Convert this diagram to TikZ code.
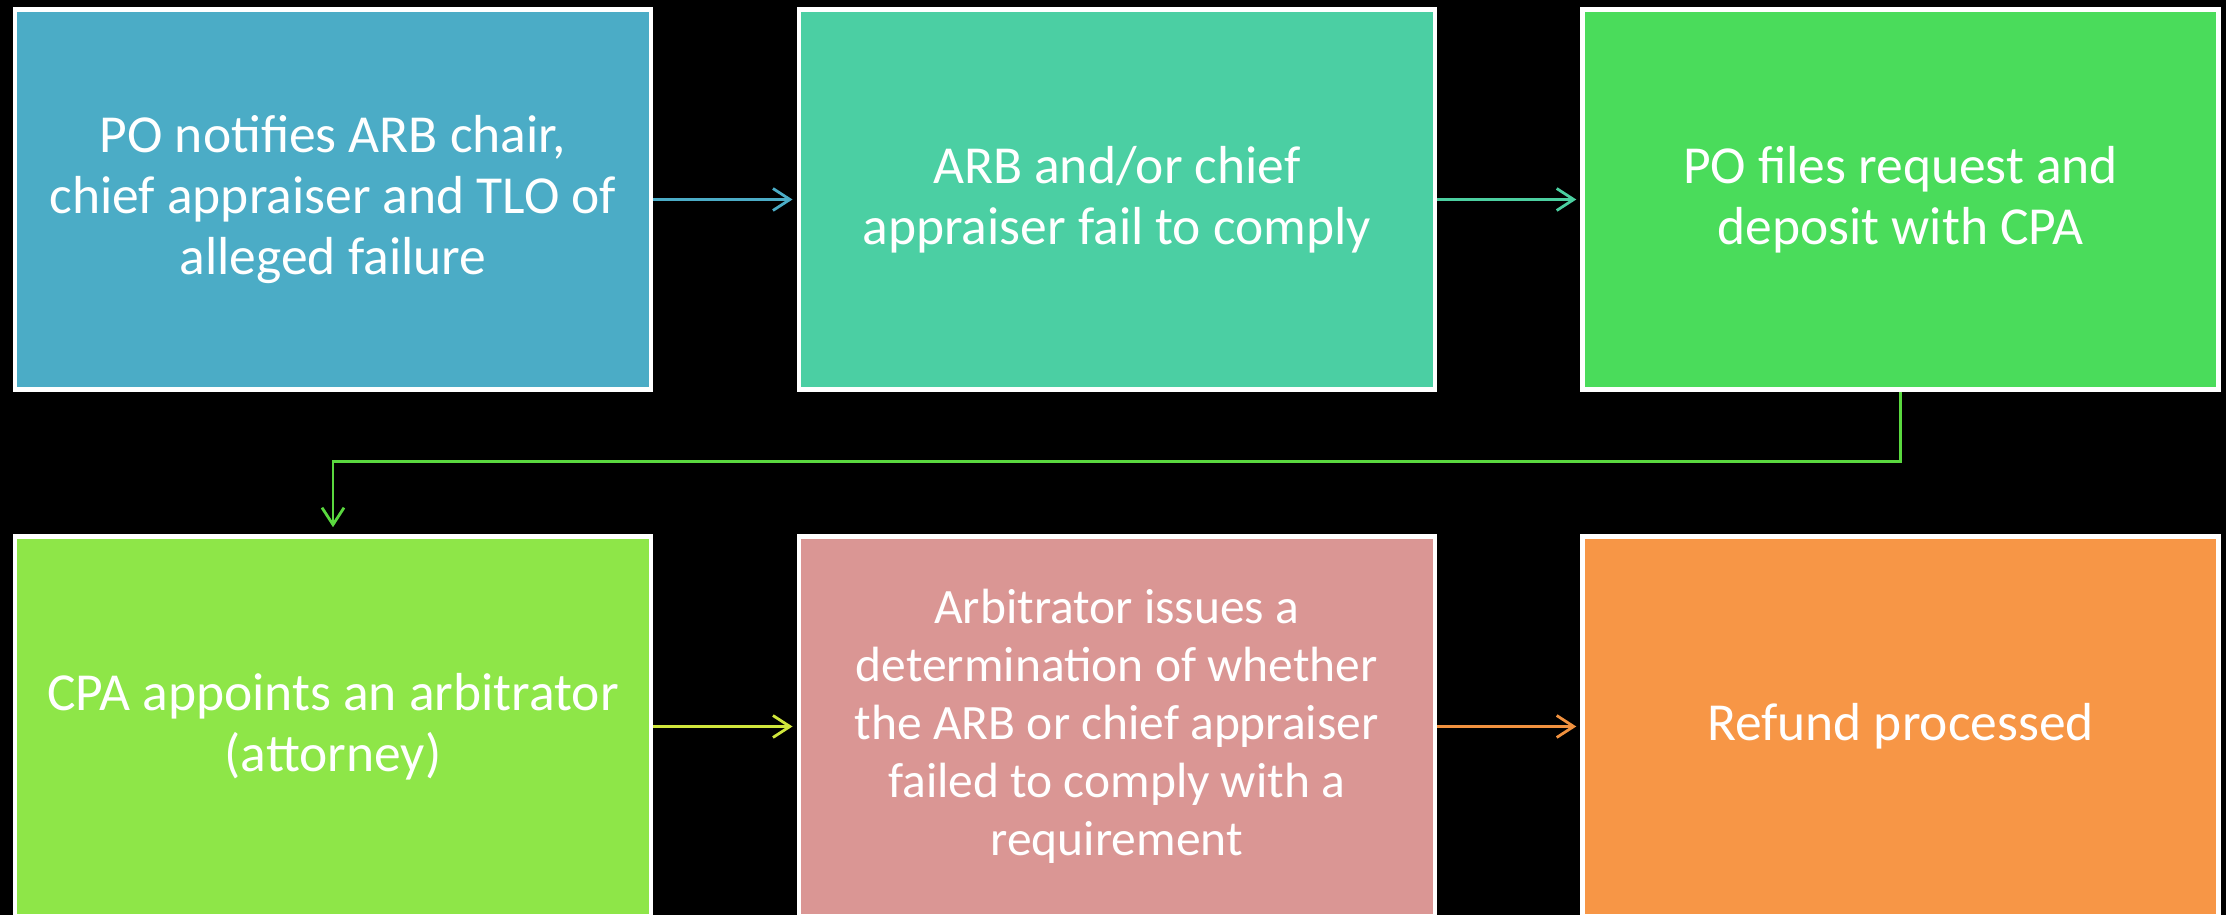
\documentclass[tikz,border=0pt]{standalone}
\usepackage{fontspec}
\setmainfont{Carlito}
\usetikzlibrary{arrows.meta}
\definecolor{cA}{HTML}{4BACC6}
\definecolor{cB}{HTML}{4BCFA3}
\definecolor{cC}{HTML}{4ADC5B}
\definecolor{cD}{HTML}{8EE648}
\definecolor{cE}{HTML}{DA9694}
\definecolor{cF}{HTML}{F79646}
\definecolor{aA}{HTML}{4BACC6}
\definecolor{aB}{HTML}{4BCFA0}
\definecolor{aC}{HTML}{5AD83F}
\definecolor{aD}{HTML}{D0E63C}
\definecolor{aE}{HTML}{F0913F}
\tikzset{
  stepbox/.style={draw=white, line width=4.5pt, minimum width=636pt, minimum height=380pt,
    inner sep=0pt, align=center, text=white, font=\fontsize{53.5}{61}\selectfont},
  smalltext/.style={font=\fontsize{49.5}{58}\selectfont},
  flow/.style={line width=2.8pt, -{Straight Barb[length=17pt,width=22pt,line width=2.8pt]}, shorten >=4pt}
}
\begin{document}
\begin{tikzpicture}[x=1pt,y=1pt]
\fill[black] (0,0) rectangle (2226,915);
\useasboundingbox (0,0) rectangle (2226,915);
\node[stepbox, fill=cA] (b1) at (333,715.5) {PO notifies ARB chair,\\chief appraiser and TLO of\\alleged failure};
\node[stepbox, fill=cB] (b2) at (1116.75,715.5) {ARB and/or chief\\appraiser fail to comply};
\node[stepbox, fill=cC] (b3) at (1900.5,715.5) {PO files request and\\deposit with CPA};
\node[stepbox, fill=cD] (b4) at (333,188.5) {CPA appoints an arbitrator\\(attorney)};
\node[stepbox, smalltext, fill=cE] (b5) at (1116.75,188.5) {Arbitrator issues a\\determination of whether\\the ARB or chief appraiser\\failed to comply with a\\requirement};
\node[stepbox, fill=cF] (b6) at (1900.5,188.5) {Refund processed};
\draw[flow, aA] (b1.east) -- (b2.west);
\draw[flow, aB] (b2.east) -- (b3.west);
\draw[flow, aC, shorten >=7pt] (b3.south) -- ++(0,-70) -| (b4.north);
\draw[flow, aD] (b4.east) -- (b5.west);
\draw[flow, aE] (b5.east) -- (b6.west);
\end{tikzpicture}
\end{document}
